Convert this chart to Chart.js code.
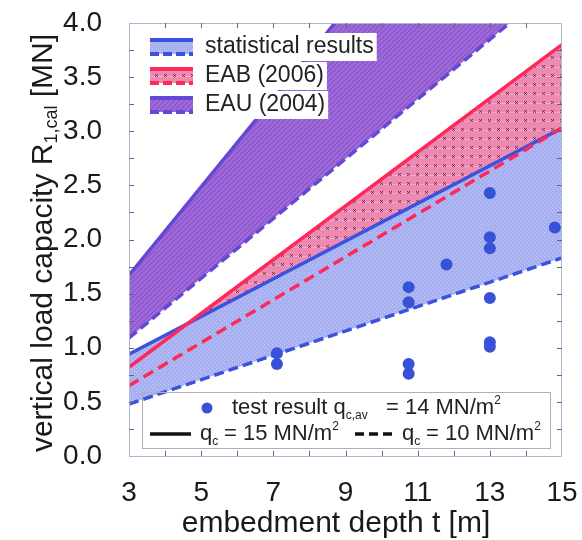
<!DOCTYPE html>
<html>
<head>
<meta charset="utf-8">
<script src="https://cdn.jsdelivr.net/npm/chart.js@4.4.1/dist/chart.umd.min.js"></script>
<style>
  html, body { margin: 0; padding: 0; background: #fff; }
  #wrap { width: 582px; height: 540px; position: relative; }
</style>
</head>
<body>
<div id="wrap"><canvas id="chart"></canvas></div>
<script>
/* ---------- data ---------- */
const lineDepth = [3, 15];            // start / end depth of every band line
const statUpper = [0.94, 3.03];       // statistical results, qc = 15
const statLower = [0.48, 1.83];       // statistical results, qc = 10
const eabUpper  = [0.82, 3.80];       // EAB (2006), qc = 15
const eabLower  = [0.65, 3.03];       // EAB (2006), qc = 10
const eauUpper  = [1.67, 6.57];       // EAU (2004), qc = 15 (runs off the top)
const eauLower  = [1.09, 4.40];       // EAU (2004), qc = 10

const testDepth = [7.1, 7.1, 10.75, 10.75, 10.75, 10.75, 11.8, 13, 13, 13, 13, 13, 13, 14.8];
const testLoad  = [0.95, 0.85, 1.56, 1.42, 0.85, 0.76, 1.77, 2.43, 2.02, 1.92, 1.46, 1.05, 1.01, 2.11];

const xTickLabels = [3, 5, 7, 9, 11, 13, 15];
const yTickLabels = [0, 0.5, 1, 1.5, 2, 2.5, 3, 3.5, 4];

const legendTop = ["statistical results", "EAB (2006)", "EAU (2004)"];

/* ---------- colours / patterns ---------- */
const FONT = '"Liberation Sans", Arial, sans-serif';
const blue = "rgb(58,82,222)";
const red = "rgb(255,40,88)";
const purple = "rgb(98,72,212)";
const dotBlue = "rgb(55,82,215)";

function makePattern(w, h, draw){
  const c = document.createElement("canvas");
  c.width = w; c.height = h;
  const g = c.getContext("2d");
  draw(g, w, h);
  return g.createPattern(c, "repeat");
}

const bluePat = makePattern(4, 4, g => {
  g.fillStyle = "rgb(166,176,240)"; g.fillRect(0, 0, 4, 4);
  g.fillStyle = "rgb(200,206,250)"; g.fillRect(0, 0, 1, 1); g.fillRect(2, 2, 1, 1);
});

const pinkPat = makePattern(9, 9, g => {
  g.fillStyle = "rgb(238,138,178)"; g.fillRect(0, 0, 9, 9);
  g.fillStyle = "rgb(246,168,200)"; g.fillRect(0, 4, 9, 1);
  g.strokeStyle = "rgba(60,25,50,0.7)"; g.lineWidth = 1;
  g.beginPath();
  g.moveTo(2, 2); g.lineTo(5, 5); g.moveTo(5, 2); g.lineTo(2, 5);
  g.stroke();
});

const purplePat = makePattern(5, 5, g => {
  g.fillStyle = "rgb(158,104,216)"; g.fillRect(0, 0, 5, 5);
  g.strokeStyle = "rgba(118,70,192,0.8)"; g.lineWidth = 1;
  g.beginPath();
  g.moveTo(0, 5); g.lineTo(5, 0);
  g.moveTo(-1, 1); g.lineTo(1, -1);
  g.moveTo(4, 6); g.lineTo(6, 4);
  g.stroke();
});

const pts = ys => lineDepth.map((x, i) => ({ x: x, y: ys[i] }));

/* ---------- drawing helpers ---------- */
function richText(ctx, x, y, parts){
  // parts: [text, size, dy]
  parts.forEach(p => {
    ctx.font = p[1] + "px " + FONT;
    ctx.fillText(p[0], x, y + (p[2] || 0));
    x += ctx.measureText(p[0]).width;
  });
  return x;
}

const decor = {
  id: "decor",
  afterDatasetsDraw(chart){
    const ctx = chart.ctx;
    const a = chart.chartArea;
    const xs = chart.scales.x, ys = chart.scales.y;
    ctx.save();

    // frame
    ctx.strokeStyle = "rgb(170,184,210)";
    ctx.lineWidth = 1;
    ctx.strokeRect(a.left + 0.5, a.top + 0.5, a.right - a.left - 1, a.bottom - a.top);

    // inner ticks on all four sides
    ctx.strokeStyle = "rgb(95,105,125)";
    ctx.beginPath();
    for (let v = 4; v < 15; v++){
      const px = Math.round(xs.getPixelForValue(v)) + 0.5;
      ctx.moveTo(px, a.bottom); ctx.lineTo(px, a.bottom - 5);
      ctx.moveTo(px, a.top); ctx.lineTo(px, a.top + 5);
    }
    for (let v = 0.25; v < 4; v += 0.25){
      const py = Math.round(ys.getPixelForValue(v)) + 0.5;
      ctx.moveTo(a.left, py); ctx.lineTo(a.left + 5, py);
      ctx.moveTo(a.right, py); ctx.lineTo(a.right - 5, py);
    }
    ctx.stroke();

    // top legend (bands)
    const pats = [bluePat, pinkPat, purplePat];
    const cols = [blue, red, purple];
    const rows = [47, 76, 105];
    ctx.textBaseline = "middle";
    rows.forEach((cy, i) => {
      ctx.font = "23px " + FONT;
      const w = ctx.measureText(legendTop[i]).width;
      ctx.fillStyle = "#fff";
      ctx.fillRect(199, cy - 14, w + 9, 28);

      ctx.fillStyle = pats[i];
      ctx.fillRect(150, cy - 7, 43, 14);
      ctx.strokeStyle = cols[i];
      ctx.lineWidth = 4;
      ctx.setLineDash([]);
      ctx.beginPath(); ctx.moveTo(150, cy - 7); ctx.lineTo(193, cy - 7); ctx.stroke();
      ctx.setLineDash([9, 4]);
      ctx.beginPath(); ctx.moveTo(150, cy + 7); ctx.lineTo(193, cy + 7); ctx.stroke();
      ctx.setLineDash([]);

      ctx.fillStyle = "#222";
      ctx.fillText(legendTop[i], 205, cy);
    });

    // bottom legend (test results / line styles)
    ctx.strokeStyle = "rgb(175,175,180)";
    ctx.lineWidth = 1;
    ctx.strokeRect(142.5, 392.5, 408, 56);

    ctx.fillStyle = dotBlue;
    ctx.beginPath(); ctx.arc(207, 408, 5.5, 0, Math.PI * 2); ctx.fill();

    ctx.fillStyle = "#222";
    richText(ctx, 232, 408, [["test result q", 22], ["c,av", 12, 8]]);
    richText(ctx, 386, 408, [["= 14 MN/m", 22], ["2", 12, -7]]);

    ctx.strokeStyle = "#111";
    ctx.lineWidth = 3.5;
    ctx.beginPath(); ctx.moveTo(150, 434); ctx.lineTo(191, 434); ctx.stroke();
    ctx.setLineDash([9, 5]);
    ctx.beginPath(); ctx.moveTo(355, 434); ctx.lineTo(394, 434); ctx.stroke();
    ctx.setLineDash([]);

    richText(ctx, 200, 434, [["q", 22], ["c", 12, 8]]);
    richText(ctx, 224, 434, [["= 15 MN/m", 22], ["2", 12, -7]]);
    richText(ctx, 402, 434, [["q", 22], ["c", 12, 8]]);
    richText(ctx, 426, 434, [["= 10 MN/m", 22], ["2", 12, -7]]);

    ctx.restore();
  },
  afterDraw(chart){
    const ctx = chart.ctx;
    ctx.save();
    ctx.fillStyle = "#1a1a1a";
    ctx.textBaseline = "middle";

    // x title
    ctx.font = "30px " + FONT;
    ctx.textAlign = "center";
    ctx.fillText("embedment depth t [m]", 336, 524);

    // y title, rotated, with subscript
    ctx.textAlign = "left";
    ctx.translate(44, 243);
    ctx.rotate(-Math.PI / 2);
    const parts = [["vertical load capacity R", 30, 0], ["1,cal", 18, 8], [" [MN]", 30, 0]];
    let total = 0;
    parts.forEach(p => { ctx.font = p[1] + "px " + FONT; total += ctx.measureText(p[0]).width; });
    richText(ctx, -total / 2, 0, parts);
    ctx.restore();
  }
};

/* ---------- chart ---------- */
const lineBase = { pointRadius: 0, borderWidth: 3.5, fill: false, tension: 0 };

new Chart(document.getElementById("chart"), {
  type: "line",
  data: {
    datasets: [
      { type: "scatter", data: testDepth.map((x, i) => ({ x: x, y: testLoad[i] })),
        pointRadius: 6, pointHoverRadius: 6, backgroundColor: dotBlue, borderWidth: 0 },
      Object.assign({ data: pts(eabUpper), borderColor: red }, lineBase),
      Object.assign({}, lineBase, { data: pts(eabLower), borderColor: red, borderDash: [11, 6] }),
      Object.assign({ data: pts(statUpper), borderColor: blue }, lineBase),
      Object.assign({}, lineBase, { data: pts(statLower), borderColor: blue, borderDash: [10, 5],
        fill: "-1", backgroundColor: bluePat }),
      // pink band of EAB (fill only, drawn under the blue band)
      Object.assign({}, lineBase, { data: pts(eabUpper), borderWidth: 0, borderColor: "transparent" }),
      Object.assign({}, lineBase, { data: pts(eabLower), borderWidth: 0, borderColor: "transparent",
        fill: "-1", backgroundColor: pinkPat }),
      Object.assign({ data: pts(eauUpper), borderColor: purple }, lineBase),
      Object.assign({}, lineBase, { data: pts(eauLower), borderColor: purple, borderDash: [10, 5],
        fill: "-1", backgroundColor: purplePat })
    ]
  },
  options: {
    responsive: true,
    maintainAspectRatio: false,
    animation: false,
    layout: { padding: { top: 23, right: 20, left: 0, bottom: 0 } },
    plugins: {
      legend: { display: false },
      tooltip: { enabled: false },
      filler: { propagate: false }
    },
    scales: {
      x: {
        type: "linear", min: 3, max: 15,
        afterBuildTicks: s => { s.ticks = xTickLabels.map(v => ({ value: v })); },
        afterFit: s => { s.height = 84; s.paddingLeft = 0; s.paddingRight = 0; },
        grid: { display: false, drawTicks: false },
        border: { display: false },
        ticks: { padding: 20, color: "#1a1a1a", font: { family: FONT, size: 28 }, maxRotation: 0 }
      },
      y: {
        min: 0, max: 4,
        afterBuildTicks: s => { s.ticks = yTickLabels.map(v => ({ value: v })); },
        afterFit: s => { s.width = 129; s.paddingTop = 0; s.paddingBottom = 0; },
        grid: { display: false, drawTicks: false },
        border: { display: false },
        ticks: { padding: 27, color: "#1a1a1a", font: { family: FONT, size: 28 },
                 callback: v => Number(v).toFixed(1) }
      }
    }
  },
  plugins: [decor]
});
</script>
</body>
</html>
